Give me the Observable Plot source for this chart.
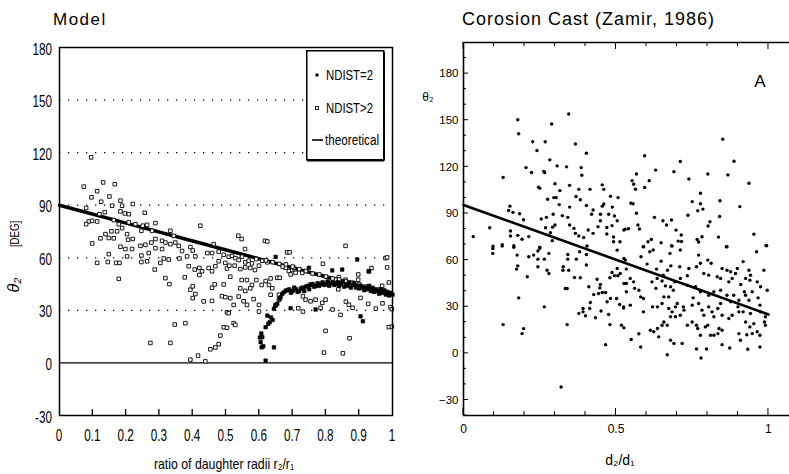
<!DOCTYPE html>
<html><head><meta charset="utf-8">
<script src="https://cdn.jsdelivr.net/npm/d3@7"></script>
<script src="https://cdn.jsdelivr.net/npm/@observablehq/plot@0.6"></script>
<style>
body{margin:0;background:#fff;}
#wrap{position:relative;width:789px;height:474px;display:flex;overflow:hidden;}
#left,#right{position:relative;height:474px;}
#left{width:405px;} #right{width:384px;}
#legend{position:absolute;left:306px;top:50px;}
.lbl{position:absolute;white-space:nowrap;line-height:1;color:#000;font-family:'Liberation Sans',Arial,sans-serif;}
</style></head><body>
<div id="wrap"><div id="left"></div><div id="right"></div></div>
<script>
// ---------- DATA ----------
const leftXTicks = [0,0.1,0.2,0.3,0.4,0.5,0.6,0.7,0.8,0.9,1];
const leftYTicks = [-30,0,30,60,90,120,150,180];
const leftGridY = [30,60,90,120,150];
const rightXTicks = [0,0.5,1];
const rightXMinor = [0,0.1,0.2,0.3,0.4,0.5,0.6,0.7,0.8,0.9,1];
const rightYTicks = [-30,0,30,60,90,120,150,180];
const rightYMinor = [-40,-30,-20,-10,0,10,20,30,40,50,60,70,80,90,100,110,120,130,140,150,160,170,180,190];

const theoreticalLine = [[0,90],[0.2,79.8],[0.4,69.6],[0.6,59.4],[0.8,49.2],[1,39]];
const castFitLine = [[0,95.5],[1,25]];

const ndistGt2 = [
[0.073,100.6],[0.131,103],[0.166,102],[0.113,98],[0.096,94.5],[0.150,95],[0.125,92],[0.183,92.6],[0.220,90.7],[0.158,89.7],[0.188,89.7],[0.183,86.5],[0.196,85.3],[0.208,84.9],[0.256,85.7],[0.136,86],[0.120,84.9],[0.088,80.7],[0.098,81.1],[0.113,80.7],[0.080,79.2],[0.163,81.5],[0.178,79.2],[0.208,80.2],[0.228,79.2],[0.250,78.3],[0.263,78.8],[0.288,79.8],[0.246,75.4],[0.278,75.4],[0.188,76.9],[0.173,75.1],[0.156,75.1],[0.138,73.5],[0.123,71.1],[0.148,71.3],[0.163,71.1],[0.203,73.5],[0.220,70.7],[0.206,70.3],[0.098,68.2],[0.183,66.3],[0.198,65],[0.218,65],[0.243,66.8],[0.258,67.4],[0.276,68.7],[0.288,70.7],[0.308,69.7],[0.318,68.7],[0.333,75.4],[0.343,72.5],[0.348,68.7],[0.358,66.8],[0.333,67.8],[0.308,65],[0.288,65.5],[0.268,62.7],[0.246,61.3],[0.148,62.1],[0.203,60.8],[0.113,57.1],[0.145,57.6],[0.170,57.1],[0.180,57.1],[0.246,57.6],[0.263,58],[0.303,57.1],[0.313,59.6],[0.328,59],[0.360,59.6],[0.368,63.9],[0.383,60.8],[0.393,66.1],[0.400,64.2],[0.408,60.8],[0.388,55.2],[0.406,53.3],[0.420,54.2],[0.428,52.3],[0.420,50.2],[0.448,54.2],[0.458,52.3],[0.468,55.2],[0.444,62.7],[0.458,62.7],[0.478,63.5],[0.493,61.7],[0.498,57.1],[0.478,58],[0.503,53.9],[0.463,67.8],[0.423,78.3],[0.286,53.3],[0.318,48.4],[0.330,45],[0.178,48],[0.376,48.8],[0.393,41.8],[0.400,43.7],[0.400,37],[0.408,39.3],[0.433,35.1],[0.458,35.4],[0.458,42.9],[0.466,44.8],[0.493,44.8],[0.488,38.1],[0.498,37.5],[0.503,28.9],[0.493,20.4],[0.483,15.6],[0.478,10.7],[0.468,8.8],[0.453,7.8],[0.346,21.9],[0.378,22.7],[0.273,11.4],[0.333,11.4],[0.393,1.9],[0.416,4.2],[0.438,0.9],[0.080,88.4],[0.095,117.3],
[0.537,72.6],[0.547,70.7],[0.617,69.7],[0.624,69.3],[0.557,65],[0.684,63.1],[0.691,63.1],[0.859,66.8],[0.508,60.6],[0.518,61.1],[0.528,59.8],[0.538,58.7],[0.548,60.6],[0.558,57.4],[0.568,58.3],[0.578,56.8],[0.591,59.3],[0.599,55.5],[0.609,58.3],[0.624,57.4],[0.510,55.5],[0.526,55.5],[0.543,53.6],[0.558,54.5],[0.573,54.2],[0.587,53],[0.513,49.2],[0.547,47.3],[0.563,47.3],[0.578,44.5],[0.591,47.3],[0.607,44.5],[0.619,46.7],[0.634,48.2],[0.654,48.6],[0.661,48.6],[0.543,42.6],[0.558,41.1],[0.573,42.6],[0.538,37.9],[0.553,35.2],[0.583,36.4],[0.599,33.1],[0.629,44.5],[0.639,42.6],[0.634,38.9],[0.659,38.9],[0.689,52.4],[0.699,53.3],[0.709,51.4],[0.694,50.5],[0.679,54.3],[0.704,54.3],[0.729,51.4],[0.791,56.6],[0.739,36.1],[0.754,35.2],[0.769,36.1],[0.754,44.7],[0.731,38],[0.717,31.2],[0.731,29.3],[0.789,34.3],[0.784,31.4],[0.799,36.1],[0.809,44.7],[0.829,47.5],[0.839,49],[0.837,42],[0.859,47.5],[0.869,33.2],[0.844,27.4],[0.799,18.3],[0.871,14.1],[0.794,5.9],[0.851,5.5],[0.897,50.5],[0.897,47.5],[0.904,37.1],[0.927,33.7],[0.937,54.1],[0.929,52.2],[0.979,59.8],[0.984,54.5],[0.969,44],[0.989,20.4],[0.994,31.8],[0.989,45.9],[0.513,37],[0.523,33.1],[0.508,28.4],[0.523,22.7],[0.528,21.7],[0.503,20.1],[0.563,33.1],[0.599,29.3],[0.649,33.1],[0.659,36.1],
[0.62,58.5],[0.64,57.5],[0.66,56.5],[0.67,55],[0.68,56.2],[0.70,55],[0.72,53.5],[0.74,52.4],[0.76,51],[0.78,50.5],[0.80,49.3],[0.82,48.2],[0.84,47.6],[0.86,46.5],[0.88,45.8],[0.90,44.8],[0.92,43.6],[0.94,42.8],[0.96,41.8],[0.98,40.6],[0.984,60.2],[0.998,30.7],[0.998,20.7],[0.86,35],[0.88,31.5],[0.95,31],[0.97,34],[0.82,30.5]
];

const ndist2 = [
[0.619,1.3],[0.607,8.9],[0.604,11.8],[0.609,14.7],[0.644,8.9],[0.619,20.4],[0.627,22.3],[0.631,23.2],[0.624,27],[0.644,30.9],[0.649,32.8],[0.654,33.7],[0.661,36.6],[0.664,37.5],[0.669,39.4],[0.674,40.4],[0.680,41.3],
[0.685,41.5],[0.69,42],[0.695,40],[0.70,41],[0.705,43],[0.71,42],[0.715,40.5],[0.72,41],[0.725,42.5],[0.73,43],[0.735,41],[0.74,43.5],[0.745,44],[0.75,42],[0.755,44.5],[0.76,45],[0.765,43.5],[0.77,44],[0.775,45.5],[0.78,44],[0.785,45],[0.79,46],[0.795,44.5],[0.80,45],[0.805,46.5],[0.81,44],[0.815,45.5],[0.82,46],[0.825,44.5],[0.83,45],[0.835,46],[0.84,44],[0.845,45],[0.85,46.5],[0.855,43.5],[0.86,45],[0.865,44],[0.87,46],[0.875,43],[0.88,44.5],[0.885,45.5],[0.89,43],[0.895,44],[0.90,42.5],[0.905,44],[0.91,43],[0.915,41.5],[0.92,43],[0.925,42],[0.93,44],[0.935,41],[0.94,42.5],[0.945,40.5],[0.95,42],[0.955,41],[0.96,39.5],[0.965,42],[0.97,40],[0.975,41.5],[0.98,39],[0.985,40.5],[0.99,38.5],[0.995,40],[1.0,39],
[0.649,60.5],[0.694,31.2],[0.749,54.3],[0.819,52.8],[0.849,53.3],[0.894,59],[0.929,52.4],[0.904,26.6],[0.911,23.8],[0.769,30.5],[0.602,14.5],[0.606,16.8],[0.612,9.5],[0.64,24.5],[0.635,26]
];

const castPoints = [
[0.178,150.3],[0.181,141.3],[0.345,154],[0.289,147.6],[0.227,136.1],[0.268,136.1],[0.241,130.5],[0.367,134.7],[0.403,128.8],[0.283,124.5],[0.307,120.6],[0.338,120],[0.205,119.5],[0.223,116.4],[0.263,117.1],[0.266,116.4],[0.386,119.5],[0.388,114.6],[0.130,113.1],[0.300,109.1],[0.246,106.9],[0.250,106.3],[0.316,104.7],[0.348,108.1],[0.378,105.5],[0.415,105.5],[0.455,108.4],[0.460,105.5],[0.296,100.2],[0.304,100.2],[0.276,99.1],[0.369,100.9],[0.383,98.8],[0.482,101.1],[0.507,100.2],[0.314,95.7],[0.348,94.1],[0.403,95.1],[0.425,92.2],[0.455,94.7],[0.460,96.1],[0.488,94.1],[0.420,89.5],[0.449,89.5],[0.476,89.5],[0.495,88.4],[0.152,94.7],[0.148,91.9],[0.162,90.7],[0.184,89.8],[0.324,88.6],[0.294,89.5],[0.272,87.5],[0.255,86.4],[0.342,87.5],[0.197,86],[0.300,82.6],[0.292,81.2],[0.348,82.6],[0.362,80.4],[0.367,77.2],[0.378,75.5],[0.409,79.4],[0.425,77.2],[0.441,81.5],[0.449,85.3],[0.470,81],[0.487,82.2],[0.504,85.3],[0.470,76.8],[0.492,74.9],[0.526,79.4],[0.492,71.8],[0.513,71.8],[0.269,80.8],[0.285,77.6],[0.086,80.8],[0.154,78.7],[0.154,75.5],[0.178,75.9],[0.192,73.4],[0.214,75.1],[0.032,75.1],[0.097,68.9],[0.127,69.9],[0.165,69.3],[0.250,68.3],[0.291,72.5],[0.394,74.5],[0.405,69.1],
[0.850,137.8],[0.594,127.1],[0.711,123.4],[0.887,123.6],[0.567,115.4],[0.630,117.9],[0.690,116.9],[0.801,115.4],[0.867,114.8],[0.553,111.1],[0.609,111.1],[0.558,108.8],[0.594,106.7],[0.564,105.6],[0.739,112.2],[0.936,109.4],[0.777,103],[0.549,96.6],[0.556,96.2],[0.750,97.6],[0.777,96.2],[0.841,98.2],[0.768,91.7],[0.785,92.8],[0.567,90.1],[0.906,94.4],[0.736,88.8],[0.626,87.5],[0.654,85.3],[0.682,85.8],[0.840,88],[0.808,84.7],[0.802,81.9],[0.666,82.6],[0.572,82.6],[0.577,80],[0.530,79.8],[0.541,80.2],[0.697,79.3],[0.714,76.1],[0.782,75],[0.766,73.3],[0.771,71.6],[0.836,74.8],[0.952,76.7],[0.616,73.3],[0.605,71.8],[0.648,71.2],[0.704,72.2],[0.715,72],[0.682,69.2],[0.589,68.6],[0.864,68.6],[0.992,69.4],
[0.096,67.5],[0.096,64.3],[0.127,69],[0.165,68.2],[0.176,63.2],[0.178,56.3],[0.174,54.2],[0.214,62.1],[0.230,63.2],[0.244,65.8],[0.250,67.5],[0.244,60.6],[0.265,60.6],[0.280,64.3],[0.244,55.7],[0.274,53.5],[0.280,51.4],[0.209,49.3],[0.342,63.6],[0.342,60.6],[0.370,60.6],[0.381,65.4],[0.403,63.6],[0.403,56.8],[0.327,55.7],[0.326,53.5],[0.345,53.5],[0.364,48.8],[0.383,48.6],[0.334,41.7],[0.340,41.7],[0.411,42.8],[0.438,47.7],[0.449,44.3],[0.447,42.1],[0.427,37.8],[0.443,38.5],[0.455,39.1],[0.466,39.1],[0.487,52],[0.495,49.9],[0.506,49.9],[0.480,48.6],[0.504,54.6],[0.514,51.4],[0.526,44.9],[0.482,35.3],[0.502,35.3],[0.471,33.2],[0.512,31.4],[0.525,29.2],[0.416,32.7],[0.414,28.8],[0.392,28.8],[0.400,24.2],[0.378,25.7],[0.392,26.7],[0.433,22.9],[0.451,27.2],[0.476,25],[0.480,18.5],[0.518,18.1],[0.526,16.4],[0.181,35.7],[0.265,29.9],[0.130,18.5],[0.197,15.9],[0.192,12.7],[0.340,18.5],[0.466,5.6],[0.320,-21.7],[0.504,66.4],[0.526,61],
[0.591,68.6],[0.611,65.4],[0.622,66.5],[0.677,64.3],[0.711,66.5],[0.684,69],[0.771,63.2],[0.801,60],[0.812,58],[0.777,58],[0.764,55.7],[0.862,68.6],[0.961,65.4],[0.994,69.2],[0.917,59],[0.985,53.5],[0.531,60],[0.534,54.2],[0.547,48.2],[0.558,46],[0.534,45],[0.534,39.6],[0.561,41.8],[0.575,40.6],[0.581,36.3],[0.590,35.3],[0.525,29.9],[0.547,31],[0.590,26.7],[0.620,29.9],[0.636,29.9],[0.651,32.1],[0.657,36.3],[0.673,36.3],[0.688,40.6],[0.631,41.8],[0.662,43.4],[0.679,42.8],[0.693,46],[0.711,48.2],[0.734,49.9],[0.680,56.3],[0.709,55.7],[0.739,54.6],[0.648,59.3],[0.633,54.2],[0.673,28.8],[0.684,26.7],[0.695,29.9],[0.701,32.1],[0.721,29.9],[0.723,27.8],[0.711,24.5],[0.695,23.5],[0.679,23.5],[0.657,20.2],[0.651,18.1],[0.668,18.1],[0.636,16],[0.624,13.9],[0.613,14.9],[0.640,10.6],[0.679,8.4],[0.690,6.4],[0.717,6.4],[0.668,-0.9],[0.581,4.1],[0.550,8.9],[0.575,12.6],[0.734,18.1],[0.750,20.2],[0.764,18.1],[0.777,11.6],[0.768,16],[0.793,17],[0.801,18.1],[0.810,11.6],[0.821,11.6],[0.834,12.7],[0.848,14.9],[0.838,16],[0.764,2.8],[0.779,-3],[0.797,2.8],[0.848,5.6],[0.873,3.4],[0.903,12.7],[0.908,8.4],[0.932,2.6],[0.972,4.1],[0.929,12],[0.947,12.7],[0.963,13.9],[0.972,11.6],[0.939,17],[0.925,20.2],[0.952,19.1],[0.990,18.1],[0.987,20.2],[0.788,24.5],[0.815,26.7],[0.821,23.5],[0.804,29.9],[0.834,28.8],[0.848,24.5],[0.870,22.4],[0.881,24.5],[0.903,26.7],[0.917,26.7],[0.941,25.6],[0.974,26.7],[0.990,23.5],[0.900,29.9],[0.876,33.2],[0.903,34.2],[0.936,34.2],[0.966,35.7],[0.972,31],[0.843,32.1],[0.771,32.1],[0.750,31],[0.782,27.8],[0.753,35.7],[0.777,39.6],[0.804,37.4],[0.821,39.6],[0.843,40.6],[0.864,37.4],[0.886,37.4],[0.909,44.3],[0.921,39.6],[0.925,37.4],[0.947,39.6],[0.974,42.8],[0.996,40.6],[0.925,48.2],[0.941,50.3],[0.963,46],[0.881,48.2],[0.870,46],[0.843,48.2],[0.832,49.3],[0.804,50.3],[0.788,51.4],[0.876,52.5],[0.892,51.4],[0.898,54.6],[0.864,53.5],[0.848,54.6],[0.936,53.5],[0.939,47.1],[0.761,42.8],[0.734,43.9],[0.635,48.2],[0.618,46],[0.651,46.5],[0.655,50.3],[0.669,53.5],[0.602,57.4],[0.582,62.1]
];

// ---------- STYLE ----------
const sans = "'Liberation Sans',Arial,Helvetica,sans-serif";

function label(parent, text, x, y, css) {
  const d = document.createElement("div");
  d.className = "lbl";
  d.textContent = text;
  d.style.cssText = `left:${x}px;top:${y}px;` + css;
  parent.appendChild(d);
}

// ---------- LEFT: MODEL ----------
const leftPlot = Plot.plot({
  width: 405, height: 474,
  marginLeft: 59, marginRight: 13, marginTop: 47, marginBottom: 59,
  x: {domain: [0, 1], axis: null},
  y: {domain: [-30, 180], axis: null},
  style: {fontFamily: sans, fontSize: "14px", background: "white", color: "black", overflow: "visible"},
  marks: [
    Plot.ruleY(leftGridY, {stroke: "black", strokeWidth: 1.3, strokeDasharray: "1.3,7.7"}),
    Plot.ruleY([0], {stroke: "black", strokeWidth: 1.3}),
    Plot.line(theoreticalLine, {x: d => d[0], y: d => d[1], stroke: "black", strokeWidth: 3.5}),
    Plot.dot(ndistGt2, {x: d => d[0], y: d => d[1], symbol: "square", r: 2, fill: "white", stroke: "black", strokeWidth: 0.9}),
    Plot.dot(ndist2, {x: d => d[0], y: d => d[1], symbol: "square", r: 2, fill: "black", stroke: "black", strokeWidth: 0.6}),
    Plot.frame({stroke: "black", strokeWidth: 1.5})
  ]
});
document.getElementById("left").appendChild(leftPlot);
{
  const xs = leftPlot.scale("x"), ys = leftPlot.scale("y");
  const svg = d3.select(leftPlot);
  const g = svg.append("g").attr("stroke", "black").attr("stroke-width", 1.3);
  for (const t of leftXTicks.slice(1, -1)) {
    g.append("line").attr("x1", xs.apply(t)).attr("x2", xs.apply(t))
      .attr("y1", ys.apply(-30)).attr("y2", ys.apply(-30) - 6);
  }
  // condensed tick labels (narrow face emulated by horizontal scaling)
  const tg = svg.append("g").attr("font-family", sans).attr("font-size", 15).attr("fill", "black");
  const x0 = xs.apply(0), yb = ys.apply(-30);
  for (const t of leftYTicks) {
    tg.append("text").attr("text-anchor", "end").attr("dy", "0.35em")
      .attr("transform", `translate(${x0 - 7},${ys.apply(t) + 2}) scale(0.78,1.06)`).text(String(t));
  }
  for (const t of leftXTicks) {
    tg.append("text").attr("text-anchor", "middle").attr("dy", "0.35em")
      .attr("transform", `translate(${xs.apply(t)},${yb + 20}) scale(0.78,1.06)`).text(String(t));
  }
}
// legend
const legend = document.createElement("div");
legend.id = "legend";
legend.innerHTML = `<svg width="84" height="112" style="font-family:Liberation Sans,Arial,sans-serif;font-size:14px">
<rect x="0.75" y="0.75" width="77" height="109" fill="white" stroke="black" stroke-width="1.5"/>
<line x1="78" y1="2" x2="78" y2="110.5" stroke="black" stroke-width="2"/>
<line x1="1" y1="110.5" x2="78" y2="110.5" stroke="black" stroke-width="2"/>
<rect x="9.5" y="23.5" width="3" height="3" fill="black"/>
<text x="20" y="30" textLength="47" lengthAdjust="spacingAndGlyphs">NDIST=2</text>
<rect x="9.5" y="56.5" width="3" height="3" fill="white" stroke="black" stroke-width="0.9"/>
<text x="20" y="63" textLength="47" lengthAdjust="spacingAndGlyphs">NDIST&gt;2</text>
<line x1="6" y1="90" x2="17" y2="90" stroke="black" stroke-width="1.6"/>
<text x="19" y="95" textLength="54" lengthAdjust="spacingAndGlyphs">theoretical</text>
</svg>`;
const leftDiv = document.getElementById("left");
leftDiv.appendChild(legend);
label(leftDiv, "Model", 53, 19, "font-size:17px;letter-spacing:1.5px;transform:translateY(-50%);");
label(leftDiv, "ratio of daughter radii   r₂/r₁", 224, 463, "font-size:15px;transform:translate(-50%,-50%) scaleX(0.82);");
label(leftDiv, "[DEG]", 15, 234, "font-size:12px;transform:translate(-50%,-50%) rotate(-90deg) scaleX(0.8);");
label(leftDiv, "θ₂", 14, 285, "font-size:16px;font-style:italic;transform:translate(-50%,-50%) rotate(-90deg);");

// ---------- RIGHT: CORROSION CAST ----------
const rightPlot = Plot.plot({
  width: 384, height: 474,
  marginLeft: 58, marginRight: 0, marginTop: 42, marginBottom: 59,
  x: {domain: [0, 1.069], axis: null},
  y: {domain: [-40, 200], axis: null},
  style: {fontFamily: sans, fontSize: "11.5px", background: "white", color: "black", overflow: "visible"},
  marks: [
    Plot.line(castFitLine, {x: d => d[0], y: d => d[1], stroke: "black", strokeWidth: 2.6}),
    Plot.dot(castPoints, {x: d => d[0], y: d => d[1], r: 1.7, fill: "black"}),
    Plot.ruleY([-40, 200], {stroke: "black", strokeWidth: 1.4}),
    Plot.ruleX([0], {stroke: "black", strokeWidth: 1.6}),
    Plot.axisY(rightYTicks, {tickSize: 0, tickPadding: 5, fontSize: 11.5, label: null}),
    Plot.axisX(rightXTicks, {tickSize: 0, tickPadding: 9, fontSize: 12, label: null, tickFormat: d => String(d)})
  ]
});
const rightDiv = document.getElementById("right");
rightDiv.appendChild(rightPlot);
{
  const xs = rightPlot.scale("x"), ys = rightPlot.scale("y");
  const g = d3.select(rightPlot).append("g").attr("stroke", "black").attr("stroke-width", 1);
  const top = ys.apply(200), bot = ys.apply(-40), x0 = xs.apply(0);
  for (const t of rightXMinor) {
    const len = rightXTicks.includes(t) ? 7 : 4;
    g.append("line").attr("x1", xs.apply(t)).attr("x2", xs.apply(t)).attr("y1", top).attr("y2", top + len);
    g.append("line").attr("x1", xs.apply(t)).attr("x2", xs.apply(t)).attr("y1", bot).attr("y2", bot - len);
  }
  for (const t of rightYMinor) {
    const len = rightYTicks.includes(t) ? 5 : 3;
    g.append("line").attr("x1", x0).attr("x2", x0 + len).attr("y1", ys.apply(t)).attr("y2", ys.apply(t));
  }
}
label(rightDiv, "Corosion Cast (Zamir, 1986)", 57, 19, "font-size:18px;letter-spacing:1px;transform:translateY(-50%);");
label(rightDiv, "A", 355, 81, "font-size:17px;transform:translate(-50%,-50%);");
label(rightDiv, "θ₂", 23, 97, "font-size:12px;transform:translate(-50%,-50%);");
label(rightDiv, "d₂/d₁", 215, 460, "font-size:14px;transform:translate(-50%,-50%);");
</script>
</body></html>
